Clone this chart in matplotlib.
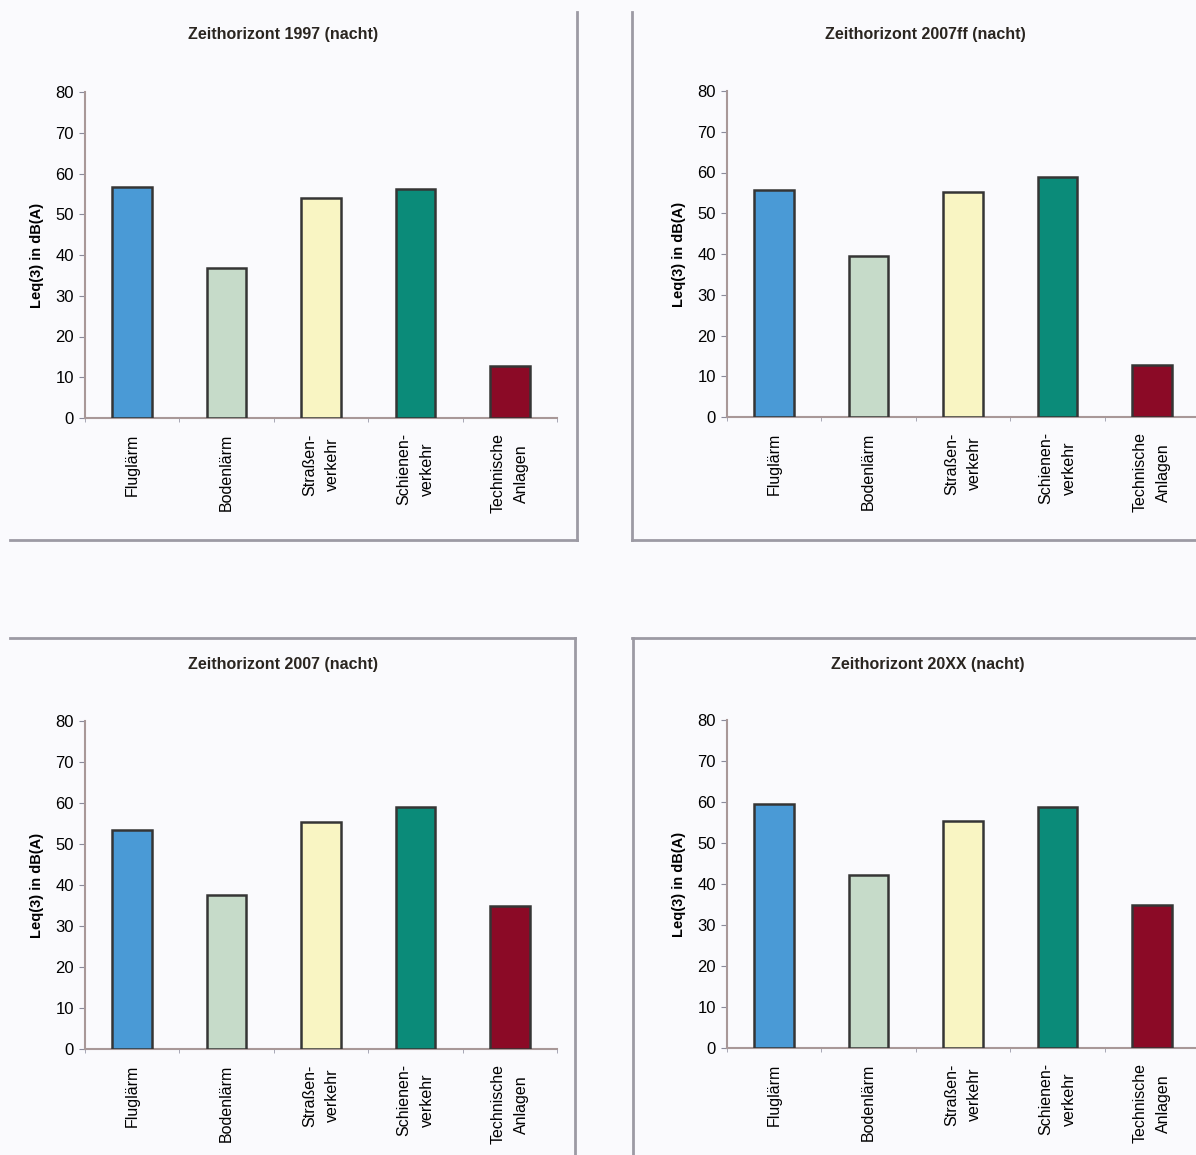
import matplotlib.pyplot as plt
from matplotlib.lines import Line2D
import numpy as np

plt.rcParams['font.family'] = ['Liberation Sans', 'DejaVu Sans']

# Data
categories = ["Fluglärm", "Bodenlärm", "Straßen-\nverkehr", "Schienen-\nverkehr", "Technische\nAnlagen"]
titles = ["Zeithorizont 1997 (nacht)", "Zeithorizont 2007ff (nacht)",
          "Zeithorizont 2007 (nacht)", "Zeithorizont 20XX (nacht)"]
leq_1997 = [56.7, 36.8, 54.0, 56.2, 12.7]
leq_2007ff = [55.8, 39.6, 55.1, 58.9, 12.8]
leq_2007 = [53.5, 37.6, 55.4, 59.1, 34.8]
leq_20xx = [59.5, 42.2, 55.4, 58.9, 35.0]
yticks = list(range(0, 81, 10))

colors = ["#4a9ad6", "#c6dbc9", "#f9f5c3", "#0b8b79", "#8b0a26"]

W, H = 1196, 1155
fig = plt.figure(figsize=(W / 100, H / 100), dpi=100)
fig.patch.set_facecolor("#fafafd")

def px(x, y):
    return x / W, 1 - y / H

# axes boxes in pixels: (left, y0 pixel, width, height)
boxes = [(85, 418, 472, 326), (727, 417, 472, 326),
         (85, 1049, 472, 328), (727, 1048, 472, 328)]
series = [leq_1997, leq_2007ff, leq_2007, leq_20xx]
title_pos = [(283, 35), (925, 35), (283, 665), (928, 665)]

for (l, y0, w, h), vals, title, tp in zip(boxes, series, titles, title_pos):
    ax = fig.add_axes([l / W, (H - y0) / H, w / W, h / H])
    ax.set_facecolor("none")
    x = np.arange(len(categories))
    ax.bar(x, vals, width=0.42, color=colors, edgecolor="#353535", linewidth=1.8, zorder=3)
    ax.set_xlim(-0.5, 4.5)
    ax.set_ylim(0, 80)
    ax.set_yticks(yticks)
    ax.tick_params(axis='y', labelsize=12, length=4, color="#8a8a9a", pad=4)
    ax.set_xticks(x)
    ax.set_xticklabels(categories, rotation=90, fontsize=11.5, va='top', ha='center',
                       multialignment='center', linespacing=1.7)
    ax.tick_params(axis='x', length=0, pad=11)
    ax.set_xticks(np.arange(-0.5, 5, 1), minor=True)
    ax.tick_params(axis='x', which='minor', length=3, color="#9a9aaa", direction='out')
    for s in ["top", "right"]:
        ax.spines[s].set_visible(False)
    ax.spines["left"].set_color("#a89898")
    ax.spines["bottom"].set_color("#a89898")
    ax.spines["left"].set_linewidth(1.5)
    ax.spines["bottom"].set_linewidth(1.5)
    ax.set_ylabel("Leq(3) in dB(A)", fontsize=10.5, fontweight='bold', labelpad=8)
    tx, ty = px(*tp)
    fig.text(tx, ty, title, ha='center', va='center', fontsize=11.5, fontweight='bold',
             color="#2a2520")

# panel frames
frame_col = "#9c9aa4"
segs = [
    [(577, 12), (577, 540)], [(10, 540), (577, 540)],
    [(632, 12), (632, 540)], [(632, 540), (1196, 540)],
    [(10, 638), (575, 638)], [(575, 638), (575, 1155)],
    [(632, 638), (1196, 638)], [(633, 638), (633, 1155)],
]
for (a, b) in segs:
    x1, y1 = px(*a)
    x2, y2 = px(*b)
    fig.add_artist(Line2D([x1, x2], [y1, y2], color=frame_col, linewidth=2))

fig.savefig("out.png", dpi=100, facecolor=fig.get_facecolor())
